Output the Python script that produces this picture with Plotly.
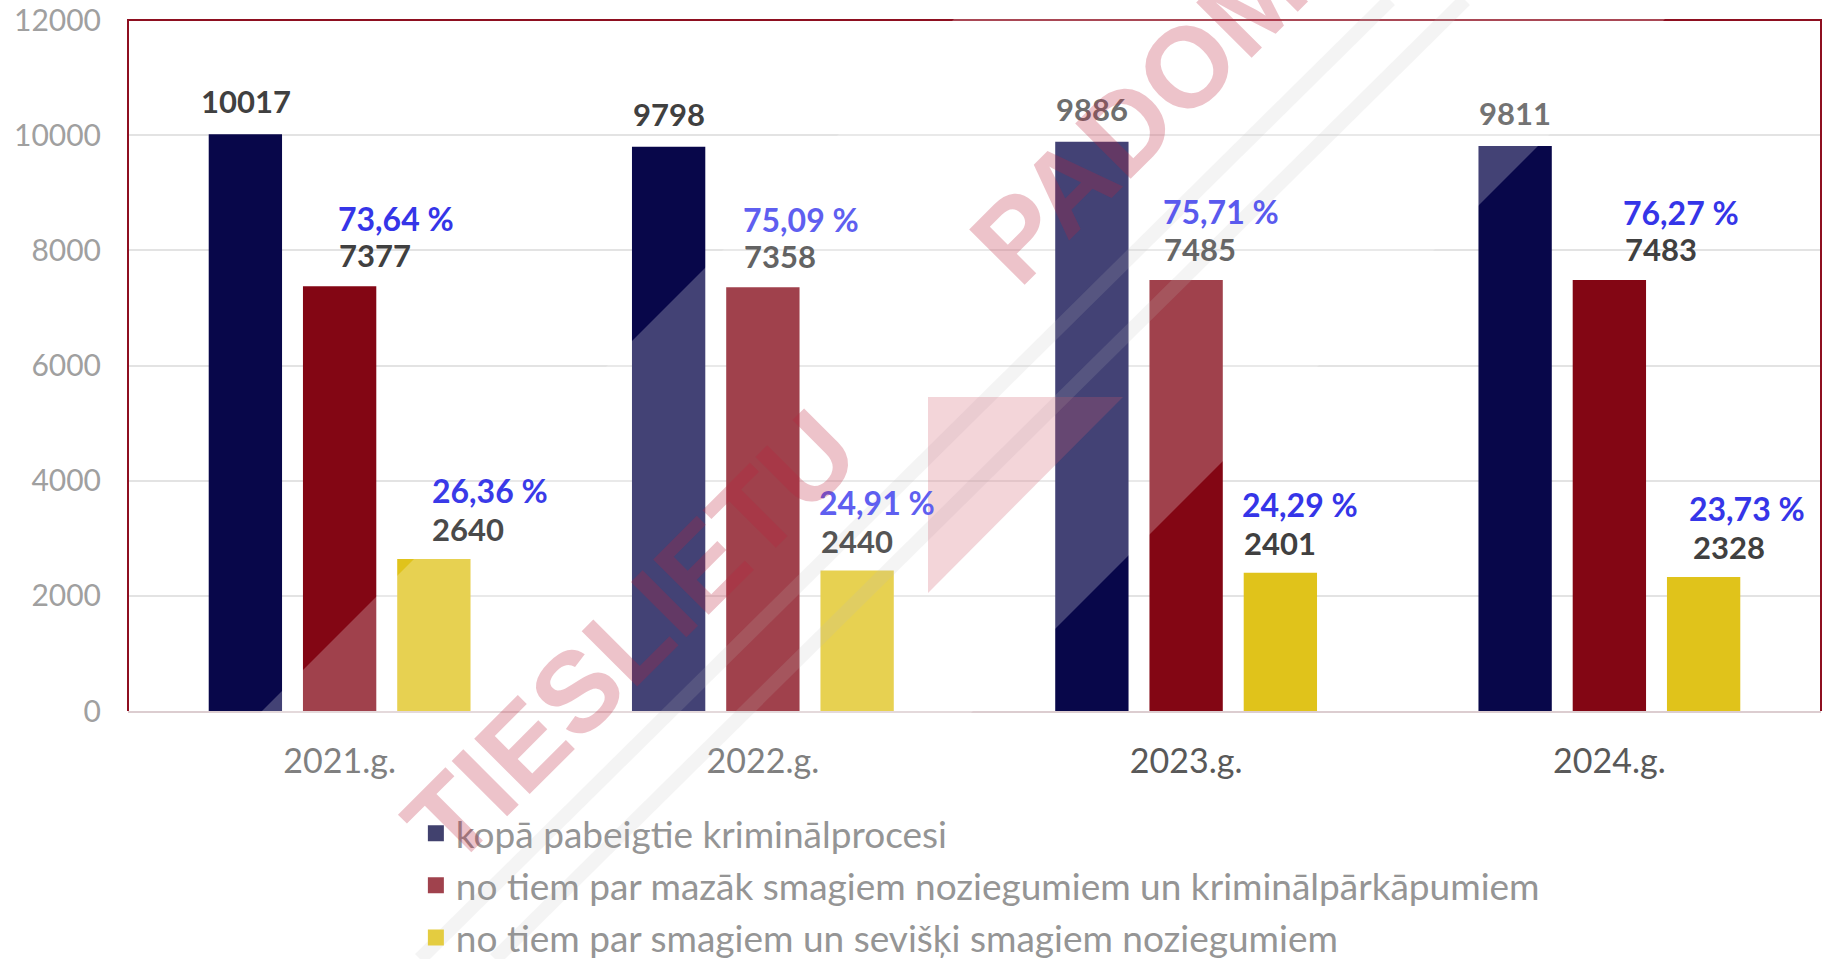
import plotly.graph_objects as go

# ---------------- data ----------------
years = ["2021.g.", "2022.g.", "2023.g.", "2024.g."]
total_cases = [10017, 9798, 9886, 9811]
less_serious = [7377, 7358, 7485, 7483]
serious = [2640, 2440, 2401, 2328]
pct_less_serious = ["73,64 %", "75,09 %", "75,71 %", "76,27 %"]
pct_serious = ["26,36 %", "24,91 %", "24,29 %", "23,73 %"]
series_names = [
    "kopā pabeigtie kriminālprocesi",
    "no tiem par mazāk smagiem noziegumiem un kriminālpārkāpumiem",
    "no tiem par smagiem un sevišķi smagiem noziegumiem",
]

# ---------------- style ----------------
W, H = 1824, 959
PL, PR, PT, PB = 128, 1821, 20, 711          # plot area in pixels
colors = ["#08074A", "#830614", "#E0C31B"]
legend_colors = ["#41416E", "#A0424D", "#E4CC40"]
bar_offset = 94                                # px between bar centres in a group

# per-label horizontal shifts (px) relative to category centre
red_num_dx = [35, 17, 14, 52]
red_pct_dx = [56, 38, 35, 72]
yel_num_dx = [128, 94, 94, 120]
yel_pct_dx = [150, 114, 114, 138]
# per-label colours (watermark lightens some of them)
navy_num_col = ["#404040", "#404040", "#6E6E6E", "#737373"]
red_num_col = ["#404040", "#636363", "#666666", "#404040"]
yel_num_col = ["#4A4A4A", "#555555", "#404040", "#404040"]
red_pct_col = ["#3535E8", "#5F5FF0", "#5A5AEE", "#3535E8"]
yel_pct_col = ["#3A3AE8", "#5F5FF0", "#3535E8", "#3535E8"]


def px(x):
    return (x - PL) / (PR - PL)


def py(y):
    return (PB - y) / (PB - PT)


def nfont(c):
    return dict(family="Lato", size=31, color=c)


def pfont(c):
    return dict(family="Lato", size=32, color=c)


fig = go.Figure()
for name, vals, col in zip(series_names, [total_cases, less_serious, serious], colors):
    fig.add_trace(go.Bar(x=years, y=vals, name=name, marker=dict(color=col, line=dict(width=0)),
                         showlegend=False, hoverinfo="skip"))
# legend entries (square swatches)
for name, col in zip(series_names, legend_colors):
    fig.add_trace(go.Scatter(x=[None], y=[None], mode="markers", name=name, legendgroup=name,
                             marker=dict(symbol="square", size=19, color=col), hoverinfo="skip"))

ann = []
for i, yr in enumerate(years):
    ann.append(dict(x=yr, y=total_cases[i], xref="x", yref="y", text="<b>%d</b>" % total_cases[i],
                    xshift=-bar_offset, yshift=33, showarrow=False, font=nfont(navy_num_col[i])))
    ann.append(dict(x=yr, y=less_serious[i], xref="x", yref="y", text="<b>%d</b>" % less_serious[i],
                    xshift=red_num_dx[i], yshift=31, showarrow=False, font=nfont(red_num_col[i])))
    ann.append(dict(x=yr, y=less_serious[i], xref="x", yref="y", text="<b>%s</b>" % pct_less_serious[i],
                    xshift=red_pct_dx[i], yshift=68, showarrow=False, font=pfont(red_pct_col[i])))
    ann.append(dict(x=yr, y=serious[i], xref="x", yref="y", text="<b>%d</b>" % serious[i],
                    xshift=yel_num_dx[i], yshift=30, showarrow=False, font=nfont(yel_num_col[i])))
    ann.append(dict(x=yr, y=serious[i], xref="x", yref="y", text="<b>%s</b>" % pct_serious[i],
                    xshift=yel_pct_dx[i], yshift=68, showarrow=False, font=pfont(yel_pct_col[i])))

# watermark text
wm_color = "rgba(190,35,60,0.27)"
ann.append(dict(x=px(630), y=py(637), xref="paper", yref="paper", text="<b>TIESLIETU</b>",
                textangle=-45, showarrow=False, xanchor="center", yanchor="middle",
                font=dict(family="Liberation Sans", size=114, color=wm_color)))
ann.append(dict(x=px(1165), y=py(88), xref="paper", yref="paper", text="<b>PADOME</b>",
                textangle=-45, showarrow=False, xanchor="center", yanchor="middle",
                font=dict(family="Liberation Sans", size=114, color=wm_color)))

shapes = []
# red frame (left, top, right)
shapes.append(dict(type="path", xref="paper", yref="paper", path="M0,0 L0,1 L1,1 L1,0",
                   line=dict(color="#8E0F20", width=2), layer="above"))
# light grey stripes of the watermark
for (x0, y0, x1, y1) in [(420, 959, 1390, 0), (495, 959, 1465, 0)]:
    shapes.append(dict(type="line", xref="paper", yref="paper", x0=px(x0), y0=py(y0), x1=px(x1), y1=py(y1),
                       line=dict(color="rgba(170,170,170,0.16)", width=14), layer="above"))
# pink triangle of the watermark
tri = [(928, 397), (1123, 397), (928, 593)]
shapes.append(dict(type="path", xref="paper", yref="paper",
                   path="M%f,%f L%f,%f L%f,%f Z" % (px(tri[0][0]), py(tri[0][1]), px(tri[1][0]), py(tri[1][1]),
                                                      px(tri[2][0]), py(tri[2][1])),
                   fillcolor="rgba(190,35,60,0.25)", line=dict(width=0), layer="above"))
# white translucent diagonal band of the watermark
band = [(973, 0), (1684, 0), (725, 959), (14, 959)]
shapes.append(dict(type="path", xref="paper", yref="paper",
                   path="M" + " L".join("%f,%f" % (px(a), py(b)) for a, b in band) + " Z",
                   fillcolor="rgba(255,255,255,0.24)", line=dict(width=0), layer="above"))

fig.update_layout(
    width=W, height=H, autosize=False,
    margin=dict(l=PL, r=W - PR, t=PT, b=H - PB, pad=0, autoexpand=False),
    paper_bgcolor="white", plot_bgcolor="white",
    barmode="group", bargap=0.332, bargroupgap=0.222,
    font=dict(family="Lato", color="#595959"),
    showlegend=True,
    legend=dict(orientation="v", xref="container", yref="container", x=0.228, y=0.163,
                xanchor="left", yanchor="top", tracegroupgap=1, itemsizing="trace",
                font=dict(family="Lato", size=37, color="#959595"), bgcolor="rgba(0,0,0,0)"),
    annotations=ann,
    shapes=shapes,
    xaxis=dict(type="category", showline=True, linecolor="#DCCDD0", linewidth=2, showgrid=False,
               ticks="", tickfont=dict(family="Lato", size=34, color="#595959"), ticklabelstandoff=19,
               tickangle=0, automargin=False, fixedrange=True),
    yaxis=dict(range=[0, 12000], dtick=2000, tickformat="d", showgrid=True, gridcolor="#E3E3E3",
               gridwidth=2, zeroline=False, showline=False, ticks="",
               tickfont=dict(family="Lato", size=30, color="#A0A0A0"), ticklabelstandoff=26,
               automargin=False, fixedrange=True),
)

fig.write_html("out.html", config={"displayModeBar": False},
               post_script="document.body.style.margin='0';document.body.style.overflow='hidden';")
